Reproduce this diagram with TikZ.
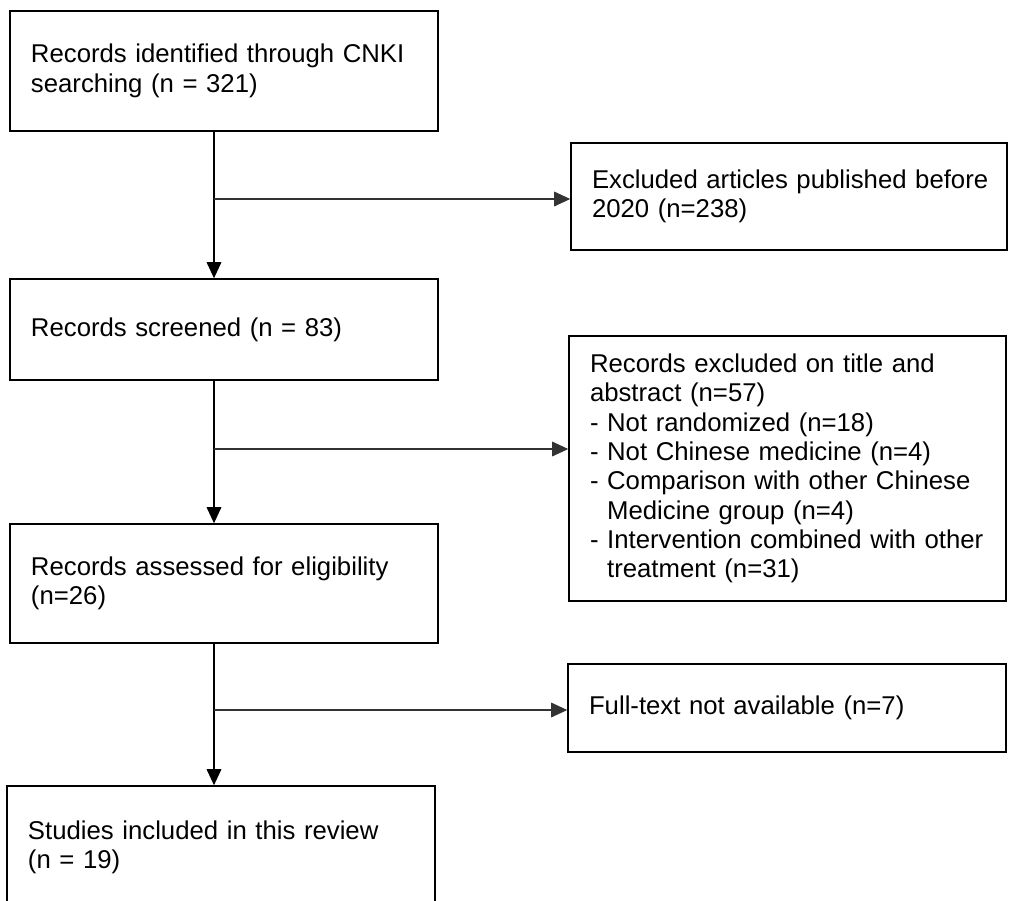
\documentclass[tikz,border=0pt]{standalone}
\usepackage{fontspec}
\setmainfont{Liberation Sans}
\usetikzlibrary{arrows.meta,positioning,calc}

\begin{document}
\begin{tikzpicture}[
  x=0.75pt,y=-0.75pt,
  box/.style={draw=black,line width=1.2pt,align=left,inner xsep=0pt,inner ysep=0pt,
    font=\fontsize{19.3}{22}\selectfont,
    execute at begin node={\leftskip=15.75pt\relax}},
  flow/.style={-{Triangle[length=12pt,width=11pt]},draw=black,line width=0.8pt},
  branch/.style={flow,draw=black!80}
]
\useasboundingbox (0,0) rectangle (1009,900);

% main column
\node[box,text width=321pt,minimum height=90pt] (ident) at (224,71) {
  Records identified through CNKI\\
  searching (n = 321)
};
\node[box,text width=321pt,minimum height=75.75pt] (screen) at (224,329.5) {
  Records screened (n = 83)
};
\node[box,text width=321pt,minimum height=89.25pt] (assess) at (224,583.5) {
  Records assessed for eligibility\\
  (n=26)
};
\node[box,text width=321pt,minimum height=91.5pt] (incl) at (221,847) {
  Studies included in this review\\
  (n = 19)
};

% exclusion boxes
\node[box,text width=327pt,minimum height=80.25pt] (excl1) at (789,196.5) {
  Excluded articles published before\\
  2020 (n=238)
};
\node[box,text width=327.75pt,minimum height=198.75pt] (excl2) at (787.5,468.5) {
  Records excluded on title and\\
  abstract (n=57)\\
  - Not randomized (n=18)\\
  - Not Chinese medicine (n=4)\\
  - Comparison with other Chinese\\
  \hphantom{-}\ Medicine group (n=4)\\
  - Intervention combined with other\\
  \hphantom{-}\ treatment (n=31)
};
\node[box,text width=328.5pt,minimum height=66pt] (excl3) at (787,708) {
  Full-text not available (n=7)
};

% branch points on the spine
\coordinate (j1) at (214,199);
\coordinate (j2) at (214,449);
\coordinate (j3) at (214,710);

\draw[flow] (ident.south -| j1) -- (screen.north -| j1);
\draw[flow] (screen.south -| j2) -- (assess.north -| j2);
\draw[flow] (assess.south -| j3) -- (incl.north -| j3);

\draw[branch] (j1) -- (j1 -| excl1.west);
\draw[branch] (j2) -- (j2 -| excl2.west);
\draw[branch] (j3) -- (j3 -| excl3.west);
\end{tikzpicture}
\end{document}
